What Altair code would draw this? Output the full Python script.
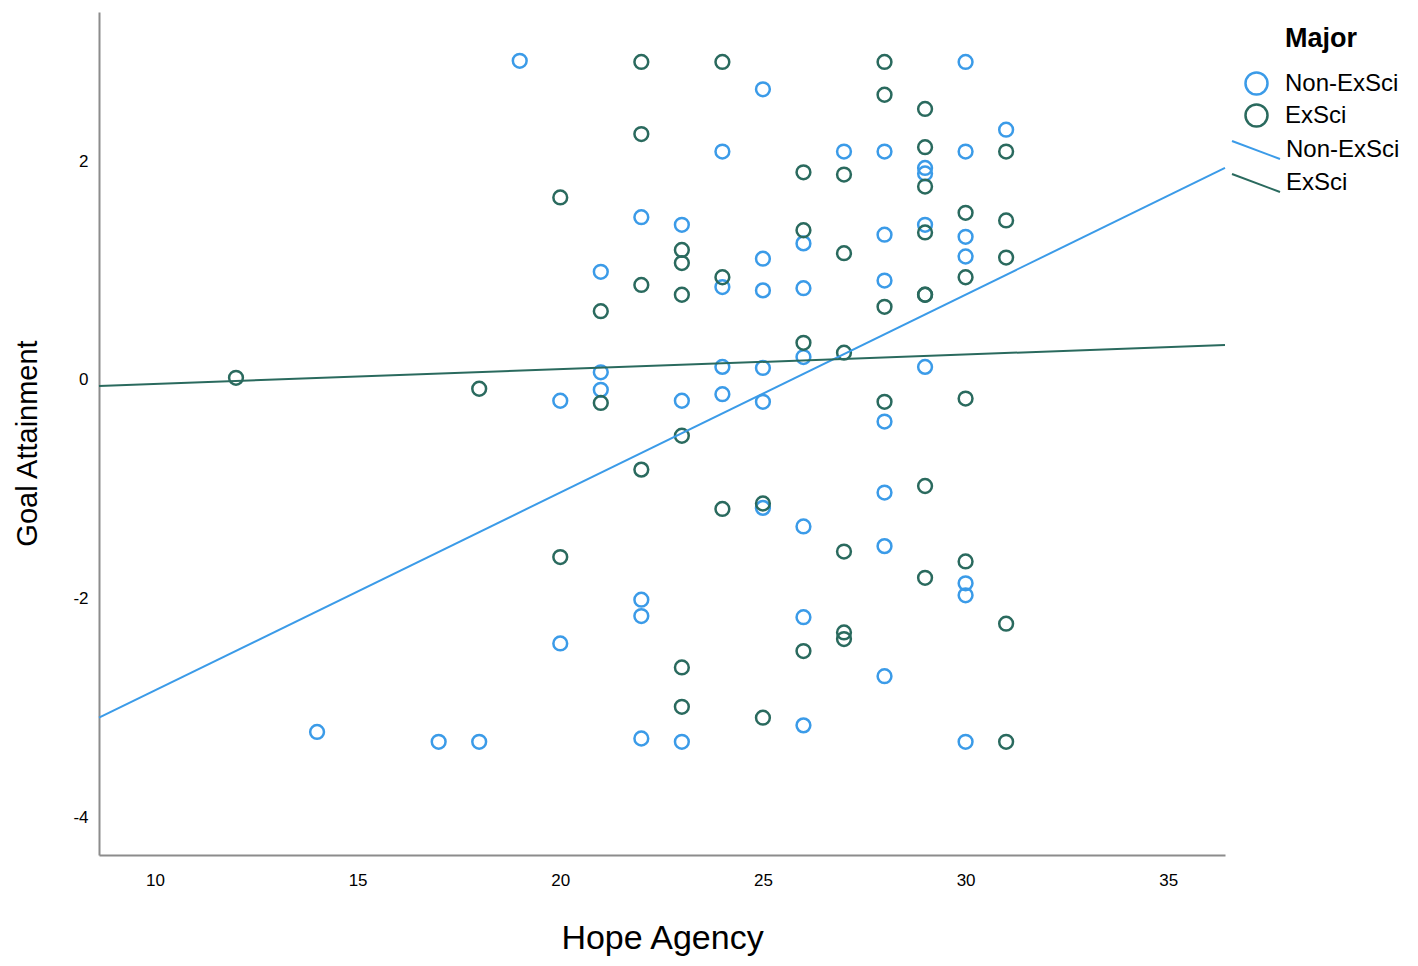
import altair as alt
import pandas as pd

# ---- data ----
majors = ["Non-ExSci", "ExSci"]
fit_names = ["Non-ExSci (fit)", "ExSci (fit)"]
colors = ["#3b9be8", "#2a6a5e"]

non_x = [14, 17, 18, 19,
         20, 20,
         21, 21, 21,
         22, 22, 22, 22,
         23, 23, 23,
         24, 24, 24, 24,
         25, 25, 25, 25, 25, 25,
         26, 26, 26, 26, 26, 26,
         27,
         28, 28, 28, 28, 28, 28, 28,
         29, 29, 29, 29,
         30, 30, 30, 30, 30, 30, 30,
         31]
non_y = [-3.22, -3.31, -3.31, 2.92,
         -0.19, -2.41,
         0.99, 0.07, -0.09,
         1.49, -2.01, -2.16, -3.28,
         1.42, -0.19, -3.31,
         2.09, 0.85, 0.12, -0.13,
         2.66, 1.11, 0.82, 0.11, -0.20, -1.17,
         1.25, 0.84, 0.21, -1.34, -2.17, -3.16,
         2.09,
         2.09, 1.33, 0.91, -0.38, -1.03, -1.52, -2.71,
         1.94, 1.89, 1.42, 0.12,
         2.91, 2.09, 1.31, 1.13, -1.86, -1.97, -3.31,
         2.29]

ex_x = [12, 18,
        20, 20,
        21, 21,
        22, 22, 22, 22,
        23, 23, 23, 23, 23, 23,
        24, 24, 24,
        25, 25,
        26, 26, 26, 26,
        27, 27, 27, 27, 27, 27,
        28, 28, 28, 28,
        29, 29, 29, 29, 29, 29, 29, 29,
        30, 30, 30, 30,
        31, 31, 31, 31, 31]
ex_y = [0.02, -0.08,
        1.67, -1.62,
        0.63, -0.21,
        2.91, 2.25, 0.87, -0.82,
        1.19, 1.07, 0.78, -0.51, -2.63, -2.99,
        2.91, 0.94, -1.18,
        -1.13, -3.09,
        1.90, 1.37, 0.34, -2.48,
        1.88, 1.16, 0.25, -1.57, -2.31, -2.37,
        2.91, 2.61, 0.67, -0.20,
        2.48, 2.13, 1.77, 1.35, 0.78, 0.78, -0.97, -1.81,
        1.53, 0.94, -0.17, -1.66,
        2.09, 1.46, 1.12, -2.23, -3.31]

# fit lines (end points)
fit_x = [8.62, 36.4]
non_fit_y = [-3.09, 1.94]
ex_fit_y = [-0.055, 0.32]

x_ticks = [10, 15, 20, 25, 30, 35]
y_ticks = [-4, -2, 0, 2]
x_domain = [8.62, 36.4]
y_domain = [-4.346, 3.367]

pts = pd.DataFrame({
    "Hope Agency": non_x + ex_x,
    "Goal Attainment": non_y + ex_y,
    "Major": [majors[0]] * len(non_x) + [majors[1]] * len(ex_x),
})
fits = pd.DataFrame({
    "Hope Agency": fit_x + fit_x,
    "Goal Attainment": non_fit_y + ex_fit_y,
    "Fit": [fit_names[0]] * 2 + [fit_names[1]] * 2,
})

FONT = "Liberation Sans"

x_axis = alt.Axis(values=x_ticks, title="Hope Agency", grid=False, ticks=False,
                  domainColor="#8c8c8c", domainWidth=2, labelFontSize=17,
                  labelPadding=17, labelColor="#000", titleFontSize=34,
                  titleFontWeight="normal", titlePadding=33, titleColor="#000",
                  labelFlush=False)
y_axis = alt.Axis(values=y_ticks, title="Goal Attainment", grid=False, ticks=False,
                  domainColor="#8c8c8c", domainWidth=2, labelFontSize=17,
                  labelPadding=11, labelColor="#000", titleFontSize=29,
                  titleFontWeight="normal", titlePadding=30, titleColor="#000",
                  titleY=431,
                  labelExpr="datum.value + ''", labelFlush=False)

xs = alt.Scale(domain=x_domain, nice=False, zero=False)
ys = alt.Scale(domain=y_domain, nice=False, zero=False)

points = alt.Chart(pts).mark_point(
    shape="circle", filled=False, size=190, strokeWidth=2.5, opacity=1
).encode(
    x=alt.X("Hope Agency:Q", scale=xs, axis=x_axis),
    y=alt.Y("Goal Attainment:Q", scale=ys, axis=y_axis),
    color=alt.Color("Major:N", scale=alt.Scale(domain=majors, range=colors),
                    legend=alt.Legend(
                        title="Major", orient="none", legendX=1145, legendY=14,
                        titleFontSize=27, titleFontWeight="bold", titleColor="#000",
                        titleAnchor="middle", titlePadding=18,
                        symbolType="circle", symbolSize=484, symbolStrokeWidth=2.5,
                        symbolFillColor="transparent",
                        labelFontSize=24, labelOffset=16, labelColor="#000",
                        rowPadding=-1)),
)

lines = alt.Chart(fits).mark_line(strokeWidth=2).encode(
    x=alt.X("Hope Agency:Q", scale=xs, axis=x_axis),
    y=alt.Y("Goal Attainment:Q", scale=ys, axis=y_axis),
    stroke=alt.Stroke("Fit:N", scale=alt.Scale(domain=fit_names, range=colors),
                      legend=alt.Legend(
                          title=None, orient="none", legendX=1145, legendY=126,
                          symbolType="M-2.4,-0.9L2.4,0.9", symbolSize=400,
                          symbolStrokeWidth=2, symbolFillColor="transparent",
                          labelExpr="replace(datum.label, ' (fit)', '')",
                          labelFontSize=24, labelOffset=18, labelColor="#000",
                          rowPadding=7)),
)

chart = alt.layer(points, lines).properties(
    width=1126, height=843,
    autosize=alt.AutoSizeParams(type="none"),
    padding={"left": 91, "top": 4, "right": 185, "bottom": 102},
    background="white",
).configure(font=FONT).configure_view(stroke=None)

chart.save("out.html", embed_options={"renderer": "svg", "actions": False})
